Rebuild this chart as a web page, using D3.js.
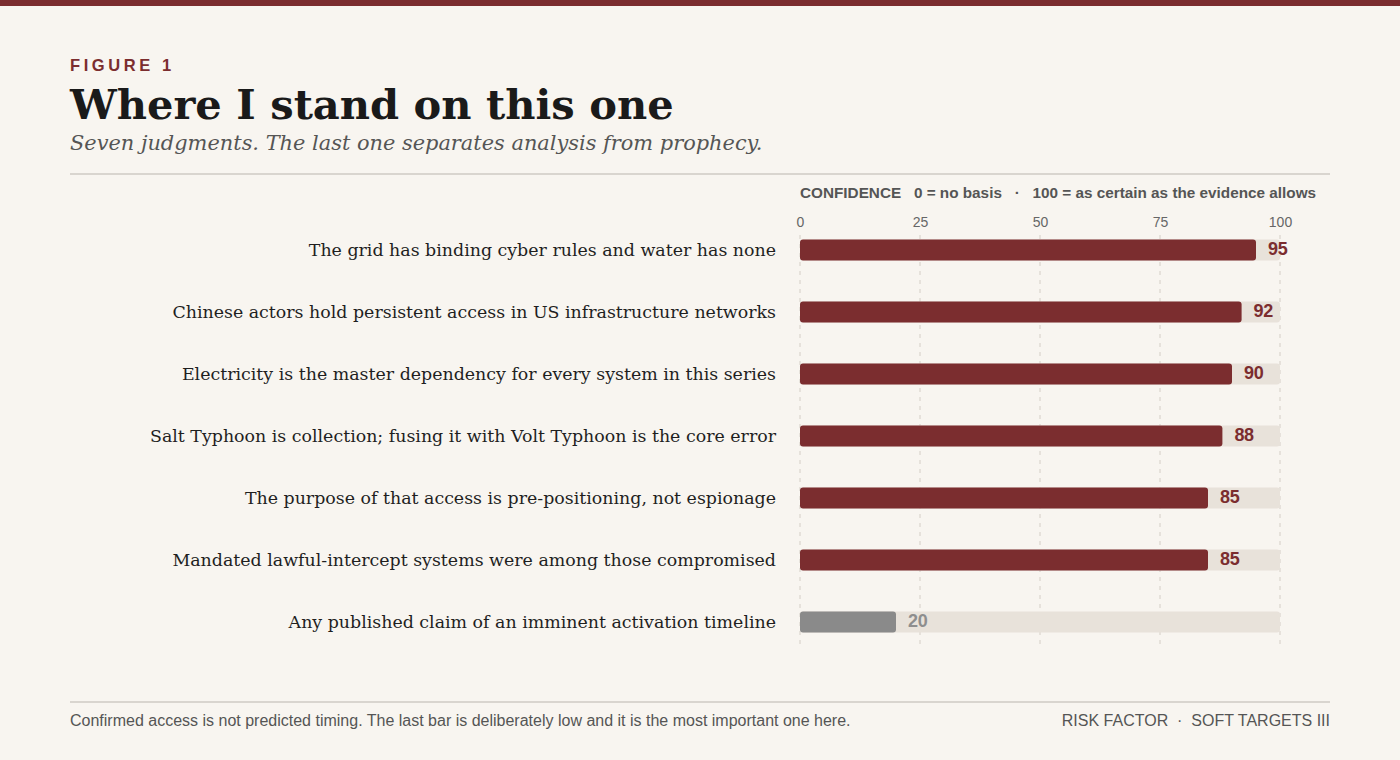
<!DOCTYPE html>
<html lang="en">
<head>
<meta charset="utf-8">
<title>Where I stand on this one</title>
<script src="https://cdn.jsdelivr.net/npm/d3@7"></script>
<style>
  body { margin: 0; background: #f8f5f0; }
  svg { display: block; }
  .tick-label { font-family: "Liberation Sans", Arial, sans-serif; font-size: 14px; fill: #666; }
</style>
</head>
<body>
<script>
// Data
var judgments = [
  "The grid has binding cyber rules and water has none",
  "Chinese actors hold persistent access in US infrastructure networks",
  "Electricity is the master dependency for every system in this series",
  "Salt Typhoon is collection; fusing it with Volt Typhoon is the core error",
  "The purpose of that access is pre-positioning, not espionage",
  "Mandated lawful-intercept systems were among those compromised",
  "Any published claim of an imminent activation timeline"
];
var confidence = [95, 92, 90, 88, 85, 85, 20];
var tickValues = [0, 25, 50, 75, 100];

var w = 1400, h = 760;
var red = "#7b2d2f";
var dataset = judgments.map(function(d, i) { return {label: d, value: confidence[i], i: i}; });

var svg = d3.select("body").append("svg")
  .attr("width", w).attr("height", h);

svg.append("rect").attr("width", w).attr("height", h).attr("fill", "#f8f5f0");
svg.append("rect").attr("width", w).attr("height", 6).attr("fill", red);

// Header
svg.append("text")
  .attr("x", 70).attr("y", 71)
  .attr("font-family", "'Liberation Sans', Arial, sans-serif")
  .attr("font-weight", "bold").attr("font-size", 16.5)
  .attr("letter-spacing", 3.6)
  .attr("fill", red)
  .text("FIGURE 1");

svg.append("text")
  .attr("x", 70).attr("y", 119)
  .attr("font-family", "'DejaVu Serif', Georgia, serif")
  .attr("font-weight", "bold").attr("font-size", 41.6)
  .attr("fill", "#1a1a1a")
  .text("Where I stand on this one");

svg.append("text")
  .attr("x", 70).attr("y", 150)
  .attr("font-family", "'DejaVu Serif', Georgia, serif")
  .attr("font-style", "italic").attr("font-size", 20.9)
  .attr("fill", "#555")
  .text("Seven judgments. The last one separates analysis from prophecy.");

svg.append("line")
  .attr("x1", 70).attr("x2", 1330).attr("y1", 174).attr("y2", 174)
  .attr("stroke", "#cfcac4").attr("stroke-width", 1.5);

// Scales
var xScale = d3.scaleLinear().domain([0, 100]).range([800, 1280]);
var yScale = d3.scaleBand()
  .domain(d3.range(dataset.length))
  .range([219, 653])
  .paddingInner(0.66).paddingOuter(0.33);

// Confidence legend line
var legend = svg.append("text")
  .attr("x", 800).attr("y", 198)
  .attr("font-family", "'Liberation Sans', Arial, sans-serif")
  .attr("font-weight", "bold").attr("font-size", 15.3)
  .attr("fill", "#555")
  .attr("xml:space", "preserve");
legend.append("tspan").text("CONFIDENCE   ");
legend.append("tspan").text("0 = no basis   ·   100 = as certain as the evidence allows");

// Axis
var xAxis = d3.axisTop(xScale).tickValues(tickValues).tickSize(0).tickPadding(0);
var axisG = svg.append("g")
  .attr("transform", "translate(0,227)")
  .call(xAxis);
axisG.select(".domain").remove();
axisG.selectAll("text").attr("class", "tick-label").attr("font-family", null).attr("font-size", null).attr("fill", null);

// Grid lines
svg.append("g").selectAll("line")
  .data(tickValues)
  .enter().append("line")
  .attr("x1", function(d) { return xScale(d); })
  .attr("x2", function(d) { return xScale(d); })
  .attr("y1", 235).attr("y2", 649)
  .attr("stroke", "#d4cec6").attr("stroke-width", 1)
  .attr("stroke-dasharray", "4,5");

// Tracks
svg.append("g").selectAll("rect")
  .data(dataset)
  .enter().append("rect")
  .attr("x", xScale(0))
  .attr("y", function(d) { return yScale(d.i); })
  .attr("width", xScale(100) - xScale(0))
  .attr("height", yScale.bandwidth())
  .attr("rx", 3)
  .attr("fill", "#e8e2da");

// Bars
svg.append("g").selectAll("rect")
  .data(dataset)
  .enter().append("rect")
  .attr("x", xScale(0))
  .attr("y", function(d) { return yScale(d.i); })
  .attr("width", function(d) { return xScale(d.value) - xScale(0); })
  .attr("height", yScale.bandwidth())
  .attr("rx", 3)
  .attr("fill", function(d) { return d.value < 50 ? "#8a8a8a" : red; });

// Value labels
svg.append("g").selectAll("text")
  .data(dataset)
  .enter().append("text")
  .attr("x", function(d) { return xScale(d.value) + 12; })
  .attr("y", function(d) { return yScale(d.i) + yScale.bandwidth() / 2; })
  .attr("dy", "0.28em")
  .attr("font-family", "'Liberation Sans', Arial, sans-serif")
  .attr("font-weight", "bold").attr("font-size", 18)
  .attr("letter-spacing", -0.3)
  .attr("fill", function(d) { return d.value < 50 ? "#8e8e8e" : red; })
  .text(function(d) { return d.value; });

// Category labels
svg.append("g").selectAll("text")
  .data(dataset)
  .enter().append("text")
  .attr("x", 776)
  .attr("y", function(d) { return yScale(d.i) + yScale.bandwidth() / 2; })
  .attr("dy", "0.35em")
  .attr("text-anchor", "end")
  .attr("font-family", "'DejaVu Serif', Georgia, serif")
  .attr("font-size", 17.4)
  .attr("fill", "#1f1f1f")
  .text(function(d) { return d.label; });

// Footer
svg.append("line")
  .attr("x1", 70).attr("x2", 1330).attr("y1", 702).attr("y2", 702)
  .attr("stroke", "#cfcac4").attr("stroke-width", 1.5);

svg.append("text")
  .attr("x", 70).attr("y", 726)
  .attr("font-family", "'Liberation Sans', Arial, sans-serif")
  .attr("font-size", 16)
  .attr("fill", "#555")
  .text("Confirmed access is not predicted timing. The last bar is deliberately low and it is the most important one here.");

svg.append("text")
  .attr("x", 1330).attr("y", 726)
  .attr("text-anchor", "end")
  .attr("font-family", "'Liberation Sans', Arial, sans-serif")
  .attr("font-size", 16)
  .attr("fill", "#555")
  .attr("xml:space", "preserve")
  .text("RISK FACTOR  ·  SOFT TARGETS III");
</script>
</body>
</html>
